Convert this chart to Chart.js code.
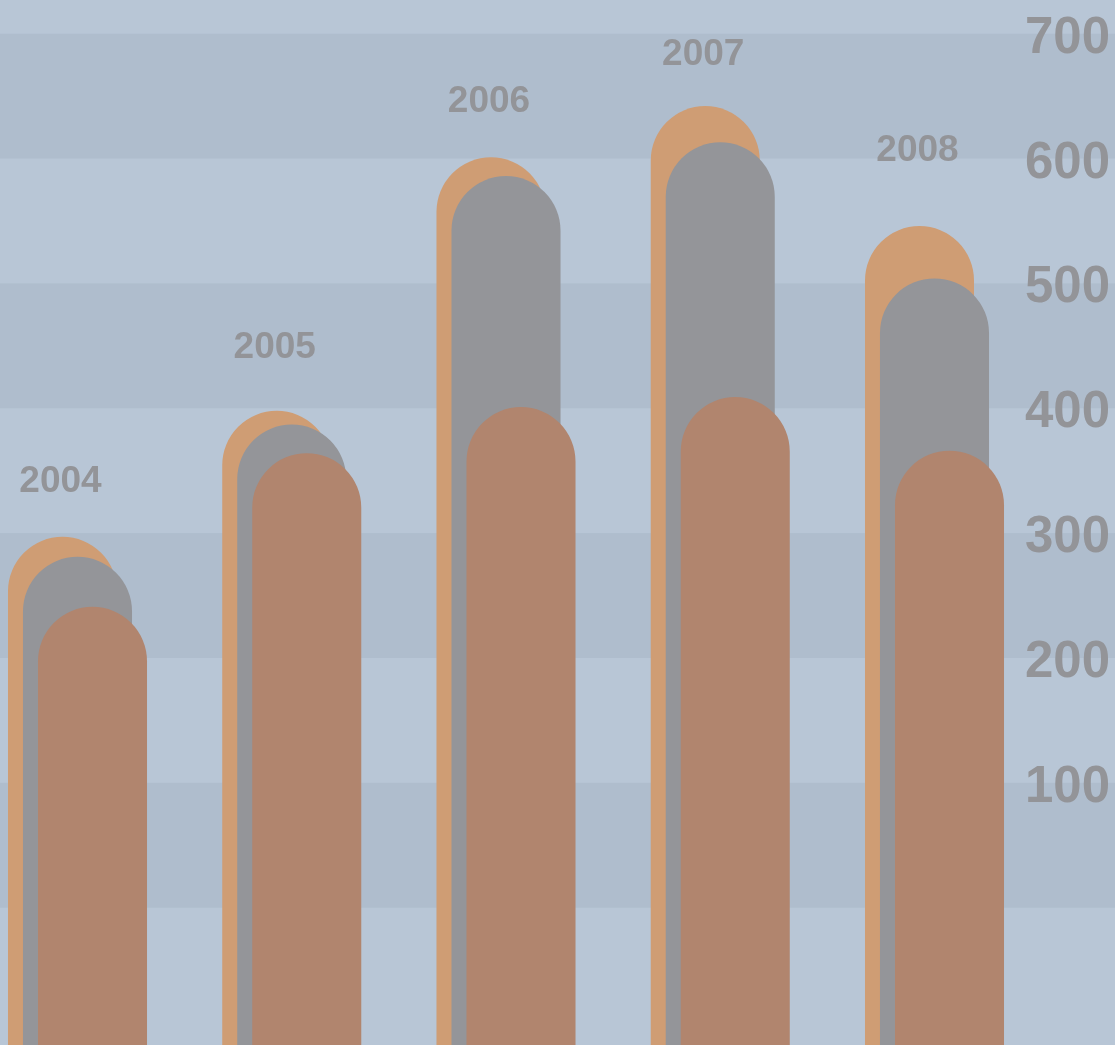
<!DOCTYPE html>
<html>
<head>
<meta charset="utf-8">
<title>2004 – 2008</title>
<script src="https://cdn.jsdelivr.net/npm/chart.js@4.4.1/dist/chart.umd.min.js"></script>
<style>
    html, body { margin: 0; padding: 0; background: #b8c6d6; }
    #wrap { width: 1115px; height: 1045px; position: relative; }
</style>
</head>
<body>
<div id="wrap"><canvas id="barChart"></canvas></div>
<script>
// données
const years = ['2004', '2005', '2006', '2007', '2008'];
const serieOrange = [297, 398, 601, 642, 546];
const serieGris = [281, 387, 586, 613, 504];
const serieBrun = [241, 364, 401, 409, 366];
const yTicks = [0, 100, 200, 300, 400, 500, 600, 700];

// hauteur (px) de chaque année au-dessus de la barre orange
const yearLift = [57, 65, 58, 53, 77];

const textGrey = '#939498';
const bandLight = '#b8c6d6';
const bandDark = '#afbdcd';
const fontFamily = '"Liberation Sans", Arial, Helvetica, sans-serif';

// fond en bandes alternées, calées sur les graduations
const bandsPlugin = {
    id: 'bands',
    beforeDraw(chart) {
        const { ctx, width, height } = chart;
        const y = chart.scales.y;
        ctx.save();
        ctx.fillStyle = bandLight;
        ctx.fillRect(0, 0, width, height);
        ctx.fillStyle = bandDark;
        for (let i = 0; i < yTicks.length - 1; i += 2) {
            const top = y.getPixelForValue(yTicks[i + 1]);
            const bottom = y.getPixelForValue(yTicks[i]);
            ctx.fillRect(0, top, width, bottom - top);
        }
        ctx.restore();
    },
};

// barres de gauche dessinées en premier (derrière), sans découpe
const backToFront = {
    id: 'backToFront',
    beforeDatasetsDraw(chart) {
        chart.getSortedVisibleDatasetMetas().forEach((meta) => meta.controller.draw());
        return false;
    },
};

// années au-dessus de chaque groupe
const yearLabels = {
    id: 'yearLabels',
    afterDraw(chart) {
        const { ctx } = chart;
        const meta = chart.getDatasetMeta(0);
        ctx.save();
        ctx.font = 'bold 37px ' + fontFamily;
        ctx.fillStyle = textGrey;
        ctx.textAlign = 'center';
        ctx.textBaseline = 'middle';
        meta.data.forEach((bar, i) => {
            ctx.fillText(years[i], bar.x - 2, bar.y - yearLift[i] + 2);
        });
        ctx.restore();
    },
};

const barStyle = {
    base: -110,
    borderRadius: { topLeft: 999, topRight: 999 },
    borderSkipped: 'start',
    borderWidth: 0,
    categoryPercentage: 0.21,
    barPercentage: 7.27,
};

const canvas = document.querySelector('#barChart');

if (canvas && typeof Chart !== 'undefined') {
    const barChart = new Chart(canvas, {
        type: 'bar',
        data: {
            labels: years,
            datasets: [
                { label: 'A', data: serieOrange, backgroundColor: '#cf9d74', ...barStyle },
                { label: 'B', data: serieGris, backgroundColor: '#949599', ...barStyle },
                { label: 'C', data: serieBrun, backgroundColor: '#b1856e', ...barStyle },
            ],
        },
        options: {
            responsive: true,
            maintainAspectRatio: false,
            animation: false,
            events: [],
            layout: { padding: { left: 77.5, right: 5, top: 0, bottom: 0 } },
            scales: {
                x: {
                    display: false,
                    offset: false,
                },
                y: {
                    position: 'right',
                    min: -110,
                    max: 727,
                    afterBuildTicks: (scale) => {
                        scale.ticks = yTicks.map((v) => ({ value: v }));
                    },
                    afterFit: (scale) => {
                        scale.width = 175.5;
                        scale.paddingTop = 0;
                        scale.paddingBottom = 0;
                    },
                    grid: { display: false, drawTicks: false },
                    border: { display: false },
                    ticks: {
                        crossAlign: 'far',
                        padding: 90,
                        labelOffset: 5,
                        color: textGrey,
                        font: { family: fontFamily, size: 51, weight: 'bold' },
                        callback: (v) => (v === 0 ? '' : v),
                    },
                },
            },
            plugins: {
                legend: { display: false },
                tooltip: { enabled: false },
            },
        },
        plugins: [bandsPlugin, backToFront, yearLabels],
    });
}
</script>
</body>
</html>
